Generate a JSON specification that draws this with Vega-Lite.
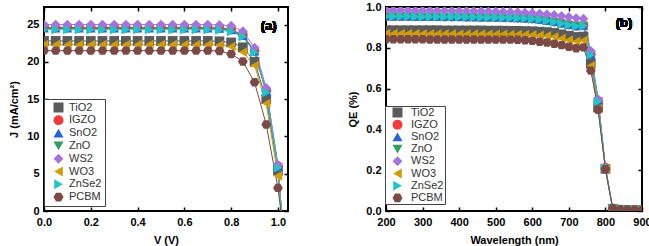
{
  "$schema": "https://vega.github.io/schema/vega-lite/v6.json",
  "padding": {"left": 7, "top": 0, "right": 0, "bottom": 0},
  "config": {
    "view": {"stroke": "black", "strokeWidth": 2},
    "font": "Liberation Sans",
    "axis": {"domain": false, "grid": false, "tickColor": "black", "tickSize": -4, "tickWidth": 1.5, "labelFont": "Liberation Sans", "labelFontWeight": "bold", "labelFontSize": 11, "labelColor": "black", "labelPadding": 9, "titleFont": "Liberation Sans", "titleFontSize": 11, "titleFontWeight": "bold", "titleColor": "black", "titlePadding": 7, "labelFlush": false, "labelOverlap": false},
    "legend": {"orient": "none", "strokeColor": "#444", "strokeWidth": 1, "fillColor": "white", "padding": 3, "symbolSize": 100, "symbolStrokeWidth": 0, "symbolOpacity": 1, "labelFont": "Liberation Sans", "labelFontSize": 11, "labelColor": "#333"}
  },
  "datasets": {
    "jv": [
      {"s":"TiO2","v":0,"j":22.8},{"s":"TiO2","v":0.05,"j":22.8},{"s":"TiO2","v":0.1,"j":22.8},{"s":"TiO2","v":0.15,"j":22.8},{"s":"TiO2","v":0.2,"j":22.8},{"s":"TiO2","v":0.25,"j":22.8},{"s":"TiO2","v":0.3,"j":22.8},{"s":"TiO2","v":0.35,"j":22.8},{"s":"TiO2","v":0.4,"j":22.8},{"s":"TiO2","v":0.45,"j":22.8},{"s":"TiO2","v":0.5,"j":22.8},{"s":"TiO2","v":0.55,"j":22.8},{"s":"TiO2","v":0.6,"j":22.8},{"s":"TiO2","v":0.65,"j":22.8},{"s":"TiO2","v":0.7,"j":22.8},{"s":"TiO2","v":0.75,"j":22.75},{"s":"TiO2","v":0.8,"j":22.6},{"s":"TiO2","v":0.85,"j":21.95},{"s":"TiO2","v":0.9,"j":20.0},{"s":"TiO2","v":0.95,"j":15.0},{"s":"TiO2","v":1.0,"j":5.4},{"s":"TiO2","v":1.02,"j":-2},
      {"s":"IGZO","v":0,"j":24.6},{"s":"IGZO","v":0.05,"j":24.6},{"s":"IGZO","v":0.1,"j":24.6},{"s":"IGZO","v":0.15,"j":24.6},{"s":"IGZO","v":0.2,"j":24.6},{"s":"IGZO","v":0.25,"j":24.6},{"s":"IGZO","v":0.3,"j":24.6},{"s":"IGZO","v":0.35,"j":24.6},{"s":"IGZO","v":0.4,"j":24.6},{"s":"IGZO","v":0.45,"j":24.6},{"s":"IGZO","v":0.5,"j":24.6},{"s":"IGZO","v":0.55,"j":24.6},{"s":"IGZO","v":0.6,"j":24.6},{"s":"IGZO","v":0.65,"j":24.6},{"s":"IGZO","v":0.7,"j":24.6},{"s":"IGZO","v":0.75,"j":24.55},{"s":"IGZO","v":0.8,"j":24.35},{"s":"IGZO","v":0.85,"j":23.6},{"s":"IGZO","v":0.9,"j":21.5},{"s":"IGZO","v":0.95,"j":16.1},{"s":"IGZO","v":1.0,"j":6.0},{"s":"IGZO","v":1.02,"j":-2},
      {"s":"SnO2","v":0,"j":24.5},{"s":"SnO2","v":0.05,"j":24.5},{"s":"SnO2","v":0.1,"j":24.5},{"s":"SnO2","v":0.15,"j":24.5},{"s":"SnO2","v":0.2,"j":24.5},{"s":"SnO2","v":0.25,"j":24.5},{"s":"SnO2","v":0.3,"j":24.5},{"s":"SnO2","v":0.35,"j":24.5},{"s":"SnO2","v":0.4,"j":24.5},{"s":"SnO2","v":0.45,"j":24.5},{"s":"SnO2","v":0.5,"j":24.5},{"s":"SnO2","v":0.55,"j":24.5},{"s":"SnO2","v":0.6,"j":24.5},{"s":"SnO2","v":0.65,"j":24.5},{"s":"SnO2","v":0.7,"j":24.5},{"s":"SnO2","v":0.75,"j":24.45},{"s":"SnO2","v":0.8,"j":24.25},{"s":"SnO2","v":0.85,"j":23.5},{"s":"SnO2","v":0.9,"j":21.4},{"s":"SnO2","v":0.95,"j":16.0},{"s":"SnO2","v":1.0,"j":5.9},{"s":"SnO2","v":1.02,"j":-2},
      {"s":"ZnO","v":0,"j":24.45},{"s":"ZnO","v":0.05,"j":24.45},{"s":"ZnO","v":0.1,"j":24.45},{"s":"ZnO","v":0.15,"j":24.45},{"s":"ZnO","v":0.2,"j":24.45},{"s":"ZnO","v":0.25,"j":24.45},{"s":"ZnO","v":0.3,"j":24.45},{"s":"ZnO","v":0.35,"j":24.45},{"s":"ZnO","v":0.4,"j":24.45},{"s":"ZnO","v":0.45,"j":24.45},{"s":"ZnO","v":0.5,"j":24.45},{"s":"ZnO","v":0.55,"j":24.45},{"s":"ZnO","v":0.6,"j":24.45},{"s":"ZnO","v":0.65,"j":24.45},{"s":"ZnO","v":0.7,"j":24.45},{"s":"ZnO","v":0.75,"j":24.4},{"s":"ZnO","v":0.8,"j":24.2},{"s":"ZnO","v":0.85,"j":23.45},{"s":"ZnO","v":0.9,"j":21.35},{"s":"ZnO","v":0.95,"j":15.9},{"s":"ZnO","v":1.0,"j":5.8},{"s":"ZnO","v":1.02,"j":-2},
      {"s":"WS2","v":0,"j":25.0},{"s":"WS2","v":0.05,"j":25.0},{"s":"WS2","v":0.1,"j":25.0},{"s":"WS2","v":0.15,"j":25.0},{"s":"WS2","v":0.2,"j":25.0},{"s":"WS2","v":0.25,"j":25.0},{"s":"WS2","v":0.3,"j":25.0},{"s":"WS2","v":0.35,"j":25.0},{"s":"WS2","v":0.4,"j":25.0},{"s":"WS2","v":0.45,"j":25.0},{"s":"WS2","v":0.5,"j":25.0},{"s":"WS2","v":0.55,"j":25.0},{"s":"WS2","v":0.6,"j":25.0},{"s":"WS2","v":0.65,"j":25.0},{"s":"WS2","v":0.7,"j":25.0},{"s":"WS2","v":0.75,"j":24.95},{"s":"WS2","v":0.8,"j":24.85},{"s":"WS2","v":0.85,"j":24.1},{"s":"WS2","v":0.9,"j":21.9},{"s":"WS2","v":0.95,"j":16.5},{"s":"WS2","v":1.0,"j":6.2},{"s":"WS2","v":1.02,"j":-2},
      {"s":"WO3","v":0,"j":22.3},{"s":"WO3","v":0.05,"j":22.3},{"s":"WO3","v":0.1,"j":22.3},{"s":"WO3","v":0.15,"j":22.3},{"s":"WO3","v":0.2,"j":22.3},{"s":"WO3","v":0.25,"j":22.3},{"s":"WO3","v":0.3,"j":22.3},{"s":"WO3","v":0.35,"j":22.3},{"s":"WO3","v":0.4,"j":22.3},{"s":"WO3","v":0.45,"j":22.3},{"s":"WO3","v":0.5,"j":22.3},{"s":"WO3","v":0.55,"j":22.3},{"s":"WO3","v":0.6,"j":22.3},{"s":"WO3","v":0.65,"j":22.3},{"s":"WO3","v":0.7,"j":22.3},{"s":"WO3","v":0.75,"j":22.25},{"s":"WO3","v":0.8,"j":22.05},{"s":"WO3","v":0.85,"j":21.3},{"s":"WO3","v":0.9,"j":19.5},{"s":"WO3","v":0.95,"j":14.4},{"s":"WO3","v":1.0,"j":4.7},{"s":"WO3","v":1.02,"j":-2},
      {"s":"ZnSe2","v":0,"j":24.3},{"s":"ZnSe2","v":0.05,"j":24.3},{"s":"ZnSe2","v":0.1,"j":24.3},{"s":"ZnSe2","v":0.15,"j":24.3},{"s":"ZnSe2","v":0.2,"j":24.3},{"s":"ZnSe2","v":0.25,"j":24.3},{"s":"ZnSe2","v":0.3,"j":24.3},{"s":"ZnSe2","v":0.35,"j":24.3},{"s":"ZnSe2","v":0.4,"j":24.3},{"s":"ZnSe2","v":0.45,"j":24.3},{"s":"ZnSe2","v":0.5,"j":24.3},{"s":"ZnSe2","v":0.55,"j":24.3},{"s":"ZnSe2","v":0.6,"j":24.3},{"s":"ZnSe2","v":0.65,"j":24.3},{"s":"ZnSe2","v":0.7,"j":24.3},{"s":"ZnSe2","v":0.75,"j":24.25},{"s":"ZnSe2","v":0.8,"j":24.05},{"s":"ZnSe2","v":0.85,"j":23.35},{"s":"ZnSe2","v":0.9,"j":21.25},{"s":"ZnSe2","v":0.95,"j":15.9},{"s":"ZnSe2","v":1.0,"j":5.8},{"s":"ZnSe2","v":1.02,"j":-2},
      {"s":"PCBM","v":0,"j":21.5},{"s":"PCBM","v":0.05,"j":21.5},{"s":"PCBM","v":0.1,"j":21.5},{"s":"PCBM","v":0.15,"j":21.5},{"s":"PCBM","v":0.2,"j":21.5},{"s":"PCBM","v":0.25,"j":21.5},{"s":"PCBM","v":0.3,"j":21.5},{"s":"PCBM","v":0.35,"j":21.5},{"s":"PCBM","v":0.4,"j":21.5},{"s":"PCBM","v":0.45,"j":21.5},{"s":"PCBM","v":0.5,"j":21.5},{"s":"PCBM","v":0.55,"j":21.5},{"s":"PCBM","v":0.6,"j":21.5},{"s":"PCBM","v":0.65,"j":21.5},{"s":"PCBM","v":0.7,"j":21.5},{"s":"PCBM","v":0.75,"j":21.45},{"s":"PCBM","v":0.8,"j":21.05},{"s":"PCBM","v":0.85,"j":20.05},{"s":"PCBM","v":0.9,"j":17.25},{"s":"PCBM","v":0.95,"j":11.6},{"s":"PCBM","v":1.0,"j":3.1},{"s":"PCBM","v":1.02,"j":-2}
    ],
    "qe": [
      {"s":"TiO2","w":200,"q":0.886},{"s":"TiO2","w":220,"q":0.886},{"s":"TiO2","w":240,"q":0.886},{"s":"TiO2","w":260,"q":0.886},{"s":"TiO2","w":280,"q":0.886},{"s":"TiO2","w":300,"q":0.886},{"s":"TiO2","w":320,"q":0.886},{"s":"TiO2","w":340,"q":0.886},{"s":"TiO2","w":360,"q":0.885},{"s":"TiO2","w":380,"q":0.885},{"s":"TiO2","w":400,"q":0.885},{"s":"TiO2","w":420,"q":0.885},{"s":"TiO2","w":440,"q":0.885},{"s":"TiO2","w":460,"q":0.885},{"s":"TiO2","w":480,"q":0.884},{"s":"TiO2","w":500,"q":0.884},{"s":"TiO2","w":520,"q":0.884},{"s":"TiO2","w":540,"q":0.883},{"s":"TiO2","w":560,"q":0.883},{"s":"TiO2","w":580,"q":0.882},{"s":"TiO2","w":600,"q":0.881},{"s":"TiO2","w":620,"q":0.879},{"s":"TiO2","w":640,"q":0.877},{"s":"TiO2","w":660,"q":0.873},{"s":"TiO2","w":680,"q":0.866},{"s":"TiO2","w":700,"q":0.859},{"s":"TiO2","w":720,"q":0.853},{"s":"TiO2","w":740,"q":0.855},{"s":"TiO2","w":760,"q":0.722},{"s":"TiO2","w":780,"q":0.507},{"s":"TiO2","w":800,"q":0.207},{"s":"TiO2","w":820,"q":0.011},{"s":"TiO2","w":840,"q":0.006},{"s":"TiO2","w":860,"q":0.005},{"s":"TiO2","w":880,"q":0.004},{"s":"TiO2","w":900,"q":0.003},
      {"s":"IGZO","w":200,"q":0.955},{"s":"IGZO","w":220,"q":0.955},{"s":"IGZO","w":240,"q":0.955},{"s":"IGZO","w":260,"q":0.955},{"s":"IGZO","w":280,"q":0.954},{"s":"IGZO","w":300,"q":0.954},{"s":"IGZO","w":320,"q":0.954},{"s":"IGZO","w":340,"q":0.954},{"s":"IGZO","w":360,"q":0.953},{"s":"IGZO","w":380,"q":0.953},{"s":"IGZO","w":400,"q":0.953},{"s":"IGZO","w":420,"q":0.952},{"s":"IGZO","w":440,"q":0.952},{"s":"IGZO","w":460,"q":0.951},{"s":"IGZO","w":480,"q":0.951},{"s":"IGZO","w":500,"q":0.95},{"s":"IGZO","w":520,"q":0.949},{"s":"IGZO","w":540,"q":0.948},{"s":"IGZO","w":560,"q":0.947},{"s":"IGZO","w":580,"q":0.946},{"s":"IGZO","w":600,"q":0.943},{"s":"IGZO","w":620,"q":0.939},{"s":"IGZO","w":640,"q":0.934},{"s":"IGZO","w":660,"q":0.928},{"s":"IGZO","w":680,"q":0.921},{"s":"IGZO","w":700,"q":0.914},{"s":"IGZO","w":720,"q":0.908},{"s":"IGZO","w":740,"q":0.91},{"s":"IGZO","w":760,"q":0.767},{"s":"IGZO","w":780,"q":0.539},{"s":"IGZO","w":800,"q":0.211},{"s":"IGZO","w":820,"q":0.012},{"s":"IGZO","w":840,"q":0.007},{"s":"IGZO","w":860,"q":0.006},{"s":"IGZO","w":880,"q":0.005},{"s":"IGZO","w":900,"q":0.004},
      {"s":"SnO2","w":200,"q":0.954},{"s":"SnO2","w":220,"q":0.954},{"s":"SnO2","w":240,"q":0.954},{"s":"SnO2","w":260,"q":0.954},{"s":"SnO2","w":280,"q":0.953},{"s":"SnO2","w":300,"q":0.953},{"s":"SnO2","w":320,"q":0.953},{"s":"SnO2","w":340,"q":0.953},{"s":"SnO2","w":360,"q":0.952},{"s":"SnO2","w":380,"q":0.952},{"s":"SnO2","w":400,"q":0.952},{"s":"SnO2","w":420,"q":0.951},{"s":"SnO2","w":440,"q":0.951},{"s":"SnO2","w":460,"q":0.95},{"s":"SnO2","w":480,"q":0.95},{"s":"SnO2","w":500,"q":0.949},{"s":"SnO2","w":520,"q":0.948},{"s":"SnO2","w":540,"q":0.947},{"s":"SnO2","w":560,"q":0.946},{"s":"SnO2","w":580,"q":0.945},{"s":"SnO2","w":600,"q":0.942},{"s":"SnO2","w":620,"q":0.938},{"s":"SnO2","w":640,"q":0.933},{"s":"SnO2","w":660,"q":0.927},{"s":"SnO2","w":680,"q":0.92},{"s":"SnO2","w":700,"q":0.913},{"s":"SnO2","w":720,"q":0.907},{"s":"SnO2","w":740,"q":0.909},{"s":"SnO2","w":760,"q":0.766},{"s":"SnO2","w":780,"q":0.538},{"s":"SnO2","w":800,"q":0.21},{"s":"SnO2","w":820,"q":0.012},{"s":"SnO2","w":840,"q":0.007},{"s":"SnO2","w":860,"q":0.006},{"s":"SnO2","w":880,"q":0.005},{"s":"SnO2","w":900,"q":0.004},
      {"s":"ZnO","w":200,"q":0.952},{"s":"ZnO","w":220,"q":0.952},{"s":"ZnO","w":240,"q":0.952},{"s":"ZnO","w":260,"q":0.952},{"s":"ZnO","w":280,"q":0.951},{"s":"ZnO","w":300,"q":0.951},{"s":"ZnO","w":320,"q":0.951},{"s":"ZnO","w":340,"q":0.951},{"s":"ZnO","w":360,"q":0.95},{"s":"ZnO","w":380,"q":0.95},{"s":"ZnO","w":400,"q":0.95},{"s":"ZnO","w":420,"q":0.949},{"s":"ZnO","w":440,"q":0.949},{"s":"ZnO","w":460,"q":0.948},{"s":"ZnO","w":480,"q":0.948},{"s":"ZnO","w":500,"q":0.947},{"s":"ZnO","w":520,"q":0.946},{"s":"ZnO","w":540,"q":0.945},{"s":"ZnO","w":560,"q":0.944},{"s":"ZnO","w":580,"q":0.943},{"s":"ZnO","w":600,"q":0.94},{"s":"ZnO","w":620,"q":0.936},{"s":"ZnO","w":640,"q":0.931},{"s":"ZnO","w":660,"q":0.925},{"s":"ZnO","w":680,"q":0.918},{"s":"ZnO","w":700,"q":0.911},{"s":"ZnO","w":720,"q":0.905},{"s":"ZnO","w":740,"q":0.907},{"s":"ZnO","w":760,"q":0.764},{"s":"ZnO","w":780,"q":0.536},{"s":"ZnO","w":800,"q":0.209},{"s":"ZnO","w":820,"q":0.012},{"s":"ZnO","w":840,"q":0.007},{"s":"ZnO","w":860,"q":0.006},{"s":"ZnO","w":880,"q":0.005},{"s":"ZnO","w":900,"q":0.004},
      {"s":"WS2","w":200,"q":0.984},{"s":"WS2","w":220,"q":0.984},{"s":"WS2","w":240,"q":0.984},{"s":"WS2","w":260,"q":0.984},{"s":"WS2","w":280,"q":0.983},{"s":"WS2","w":300,"q":0.983},{"s":"WS2","w":320,"q":0.983},{"s":"WS2","w":340,"q":0.982},{"s":"WS2","w":360,"q":0.982},{"s":"WS2","w":380,"q":0.982},{"s":"WS2","w":400,"q":0.981},{"s":"WS2","w":420,"q":0.981},{"s":"WS2","w":440,"q":0.98},{"s":"WS2","w":460,"q":0.98},{"s":"WS2","w":480,"q":0.979},{"s":"WS2","w":500,"q":0.978},{"s":"WS2","w":520,"q":0.977},{"s":"WS2","w":540,"q":0.976},{"s":"WS2","w":560,"q":0.975},{"s":"WS2","w":580,"q":0.973},{"s":"WS2","w":600,"q":0.971},{"s":"WS2","w":620,"q":0.968},{"s":"WS2","w":640,"q":0.965},{"s":"WS2","w":660,"q":0.961},{"s":"WS2","w":680,"q":0.956},{"s":"WS2","w":700,"q":0.951},{"s":"WS2","w":720,"q":0.946},{"s":"WS2","w":740,"q":0.943},{"s":"WS2","w":760,"q":0.785},{"s":"WS2","w":780,"q":0.548},{"s":"WS2","w":800,"q":0.212},{"s":"WS2","w":820,"q":0.013},{"s":"WS2","w":840,"q":0.008},{"s":"WS2","w":860,"q":0.006},{"s":"WS2","w":880,"q":0.005},{"s":"WS2","w":900,"q":0.004},
      {"s":"WO3","w":200,"q":0.869},{"s":"WO3","w":220,"q":0.869},{"s":"WO3","w":240,"q":0.869},{"s":"WO3","w":260,"q":0.869},{"s":"WO3","w":280,"q":0.869},{"s":"WO3","w":300,"q":0.868},{"s":"WO3","w":320,"q":0.868},{"s":"WO3","w":340,"q":0.868},{"s":"WO3","w":360,"q":0.868},{"s":"WO3","w":380,"q":0.868},{"s":"WO3","w":400,"q":0.867},{"s":"WO3","w":420,"q":0.867},{"s":"WO3","w":440,"q":0.867},{"s":"WO3","w":460,"q":0.867},{"s":"WO3","w":480,"q":0.866},{"s":"WO3","w":500,"q":0.866},{"s":"WO3","w":520,"q":0.866},{"s":"WO3","w":540,"q":0.865},{"s":"WO3","w":560,"q":0.865},{"s":"WO3","w":580,"q":0.864},{"s":"WO3","w":600,"q":0.863},{"s":"WO3","w":620,"q":0.861},{"s":"WO3","w":640,"q":0.859},{"s":"WO3","w":660,"q":0.854},{"s":"WO3","w":680,"q":0.846},{"s":"WO3","w":700,"q":0.838},{"s":"WO3","w":720,"q":0.831},{"s":"WO3","w":740,"q":0.836},{"s":"WO3","w":760,"q":0.712},{"s":"WO3","w":780,"q":0.502},{"s":"WO3","w":800,"q":0.206},{"s":"WO3","w":820,"q":0.011},{"s":"WO3","w":840,"q":0.006},{"s":"WO3","w":860,"q":0.005},{"s":"WO3","w":880,"q":0.004},{"s":"WO3","w":900,"q":0.003},
      {"s":"ZnSe2","w":200,"q":0.953},{"s":"ZnSe2","w":220,"q":0.953},{"s":"ZnSe2","w":240,"q":0.953},{"s":"ZnSe2","w":260,"q":0.953},{"s":"ZnSe2","w":280,"q":0.952},{"s":"ZnSe2","w":300,"q":0.952},{"s":"ZnSe2","w":320,"q":0.952},{"s":"ZnSe2","w":340,"q":0.952},{"s":"ZnSe2","w":360,"q":0.951},{"s":"ZnSe2","w":380,"q":0.951},{"s":"ZnSe2","w":400,"q":0.951},{"s":"ZnSe2","w":420,"q":0.95},{"s":"ZnSe2","w":440,"q":0.95},{"s":"ZnSe2","w":460,"q":0.949},{"s":"ZnSe2","w":480,"q":0.949},{"s":"ZnSe2","w":500,"q":0.948},{"s":"ZnSe2","w":520,"q":0.947},{"s":"ZnSe2","w":540,"q":0.946},{"s":"ZnSe2","w":560,"q":0.945},{"s":"ZnSe2","w":580,"q":0.944},{"s":"ZnSe2","w":600,"q":0.941},{"s":"ZnSe2","w":620,"q":0.937},{"s":"ZnSe2","w":640,"q":0.932},{"s":"ZnSe2","w":660,"q":0.926},{"s":"ZnSe2","w":680,"q":0.919},{"s":"ZnSe2","w":700,"q":0.912},{"s":"ZnSe2","w":720,"q":0.906},{"s":"ZnSe2","w":740,"q":0.908},{"s":"ZnSe2","w":760,"q":0.765},{"s":"ZnSe2","w":780,"q":0.537},{"s":"ZnSe2","w":800,"q":0.21},{"s":"ZnSe2","w":820,"q":0.012},{"s":"ZnSe2","w":840,"q":0.007},{"s":"ZnSe2","w":860,"q":0.006},{"s":"ZnSe2","w":880,"q":0.005},{"s":"ZnSe2","w":900,"q":0.004},
      {"s":"PCBM","w":200,"q":0.842},{"s":"PCBM","w":220,"q":0.842},{"s":"PCBM","w":240,"q":0.842},{"s":"PCBM","w":260,"q":0.842},{"s":"PCBM","w":280,"q":0.842},{"s":"PCBM","w":300,"q":0.842},{"s":"PCBM","w":320,"q":0.841},{"s":"PCBM","w":340,"q":0.841},{"s":"PCBM","w":360,"q":0.841},{"s":"PCBM","w":380,"q":0.841},{"s":"PCBM","w":400,"q":0.841},{"s":"PCBM","w":420,"q":0.841},{"s":"PCBM","w":440,"q":0.841},{"s":"PCBM","w":460,"q":0.84},{"s":"PCBM","w":480,"q":0.84},{"s":"PCBM","w":500,"q":0.84},{"s":"PCBM","w":520,"q":0.84},{"s":"PCBM","w":540,"q":0.84},{"s":"PCBM","w":560,"q":0.839},{"s":"PCBM","w":580,"q":0.837},{"s":"PCBM","w":600,"q":0.834},{"s":"PCBM","w":620,"q":0.83},{"s":"PCBM","w":640,"q":0.826},{"s":"PCBM","w":660,"q":0.82},{"s":"PCBM","w":680,"q":0.813},{"s":"PCBM","w":700,"q":0.805},{"s":"PCBM","w":720,"q":0.798},{"s":"PCBM","w":740,"q":0.802},{"s":"PCBM","w":760,"q":0.688},{"s":"PCBM","w":780,"q":0.496},{"s":"PCBM","w":800,"q":0.205},{"s":"PCBM","w":820,"q":0.012},{"s":"PCBM","w":840,"q":0.008},{"s":"PCBM","w":860,"q":0.006},{"s":"PCBM","w":880,"q":0.005},{"s":"PCBM","w":900,"q":0.004}
    ]
  },
  "bounds": "flush",
  "spacing": 98,
  "resolve": {"scale": {"color": "independent", "shape": "independent"}, "legend": {"color": "independent", "shape": "independent"}},
  "hconcat": [
    {
      "width": 244,
      "height": 204,
      "data": {"name": "jv"},
      "resolve": {"axis": {"x": "independent", "y": "independent"}},
      "layer": [
        {
          "mark": {"type": "line", "strokeWidth": 1, "clip": true},
          "encoding": {
            "x": {"field": "v", "type": "quantitative", "scale": {"domain": [0, 1.043], "nice": false, "zero": false}, "axis": {"orient": "top", "labels": false, "title": null, "values": [0, 0.2, 0.4, 0.6, 0.8, 1.0]}},
            "y": {"field": "j", "type": "quantitative", "scale": {"domain": [0, 27.35], "nice": false}, "axis": {"orient": "right", "labels": false, "title": null, "values": [0, 5, 10, 15, 20, 25]}},
            "color": {"field": "s", "type": "nominal", "scale": {"domain": ["TiO2", "IGZO", "SnO2", "ZnO", "WS2", "WO3", "ZnSe2", "PCBM"], "range": ["#5b5b5b", "#f23a3a", "#2563d9", "#2e9e63", "#a673dc", "#d09d0a", "#22c4cc", "#7b4a47"]}}
          }
        },
        {
          "mark": {"type": "point", "filled": true, "size": 95, "opacity": 1, "clip": true},
          "encoding": {
            "x": {"field": "v", "type": "quantitative", "scale": {"domain": [0, 1.043], "nice": false, "zero": false}, "axis": {"orient": "bottom", "title": "V (V)", "values": [0, 0.2, 0.4, 0.6, 0.8, 1.0], "format": ".1f"}},
            "y": {"field": "j", "type": "quantitative", "scale": {"domain": [0, 27.35], "nice": false}, "axis": {"orient": "left", "title": "J (mA/cm²)", "values": [0, 5, 10, 15, 20, 25], "format": "d"}},
            "color": {"field": "s", "type": "nominal", "scale": {"domain": ["TiO2", "IGZO", "SnO2", "ZnO", "WS2", "WO3", "ZnSe2", "PCBM"], "range": ["#5b5b5b", "#f23a3a", "#2563d9", "#2e9e63", "#a673dc", "#d09d0a", "#22c4cc", "#7b4a47"]},
              "legend": {"title": null, "orient": "none", "legendX": 0, "legendY": 92, "symbolOffset": 6, "labelOffset": 5, "rowPadding": 0.8}},
            "shape": {"field": "s", "type": "nominal", "scale": {"domain": ["TiO2", "IGZO", "SnO2", "ZnO", "WS2", "WO3", "ZnSe2", "PCBM"], "range": ["square", "circle", "triangle-up", "triangle-down", "diamond", "triangle-left", "triangle-right", "M-1,0L-0.5,-0.866L0.5,-0.866L1,0L0.5,0.866L-0.5,0.866Z"]},
              "legend": {"title": null, "orient": "none", "legendX": 0, "legendY": 92, "symbolOffset": 6, "labelOffset": 5, "rowPadding": 0.8}}
          }
        },
        {
          "mark": {"type": "text", "font": "Liberation Sans", "fontSize": 13, "fontWeight": "bold", "fill": "black"},
          "encoding": {
            "x": {"datum": 0.96, "type": "quantitative", "axis": null},
            "y": {"datum": 24.8, "type": "quantitative", "axis": null},
            "text": {"value": "(a)"}
          }
        }
      ]
    },
    {
      "width": 256,
      "height": 204,
      "data": {"name": "qe"},
      "resolve": {"axis": {"x": "independent", "y": "independent"}},
      "layer": [
        {
          "mark": {"type": "line", "strokeWidth": 1, "clip": true},
          "encoding": {
            "x": {"field": "w", "type": "quantitative", "scale": {"domain": [200, 900], "nice": false, "zero": false}, "axis": {"orient": "top", "labels": false, "title": null, "values": [200, 300, 400, 500, 600, 700, 800, 900]}},
            "y": {"field": "q", "type": "quantitative", "scale": {"domain": [0, 1.0], "nice": false}, "axis": {"orient": "right", "labels": false, "title": null, "values": [0, 0.2, 0.4, 0.6, 0.8, 1.0]}},
            "color": {"field": "s", "type": "nominal", "scale": {"domain": ["TiO2", "IGZO", "SnO2", "ZnO", "WS2", "WO3", "ZnSe2", "PCBM"], "range": ["#5b5b5b", "#f23a3a", "#2563d9", "#2e9e63", "#a673dc", "#d09d0a", "#22c4cc", "#7b4a47"]}}
          }
        },
        {
          "mark": {"type": "point", "filled": true, "size": 95, "opacity": 1, "clip": true},
          "encoding": {
            "x": {"field": "w", "type": "quantitative", "scale": {"domain": [200, 900], "nice": false, "zero": false}, "axis": {"orient": "bottom", "title": "Wavelength (nm)", "values": [200, 300, 400, 500, 600, 700, 800, 900], "format": "d"}},
            "y": {"field": "q", "type": "quantitative", "scale": {"domain": [0, 1.0], "nice": false}, "axis": {"orient": "left", "title": "QE (%)", "values": [0, 0.2, 0.4, 0.6, 0.8, 1.0], "format": ".1f"}},
            "color": {"field": "s", "type": "nominal", "scale": {"domain": ["TiO2", "IGZO", "SnO2", "ZnO", "WS2", "WO3", "ZnSe2", "PCBM"], "range": ["#5b5b5b", "#f23a3a", "#2563d9", "#2e9e63", "#a673dc", "#d09d0a", "#22c4cc", "#7b4a47"]},
              "legend": {"title": null, "orient": "none", "legendX": -1, "legendY": 99, "padding": 1, "symbolOffset": 6, "labelOffset": 8, "rowPadding": 0.2}},
            "shape": {"field": "s", "type": "nominal", "scale": {"domain": ["TiO2", "IGZO", "SnO2", "ZnO", "WS2", "WO3", "ZnSe2", "PCBM"], "range": ["square", "circle", "triangle-up", "triangle-down", "diamond", "triangle-left", "triangle-right", "M-1,0L-0.5,-0.866L0.5,-0.866L1,0L0.5,0.866L-0.5,0.866Z"]},
              "legend": {"title": null, "orient": "none", "legendX": -1, "legendY": 99, "padding": 1, "symbolOffset": 6, "labelOffset": 8, "rowPadding": 0.2}}
          }
        },
        {
          "mark": {"type": "text", "font": "Liberation Sans", "fontSize": 13, "fontWeight": "bold", "fill": "black"},
          "encoding": {
            "x": {"datum": 851, "type": "quantitative", "axis": null},
            "y": {"datum": 0.92, "type": "quantitative", "axis": null},
            "text": {"value": "(b)"}
          }
        }
      ]
    }
  ]
}
